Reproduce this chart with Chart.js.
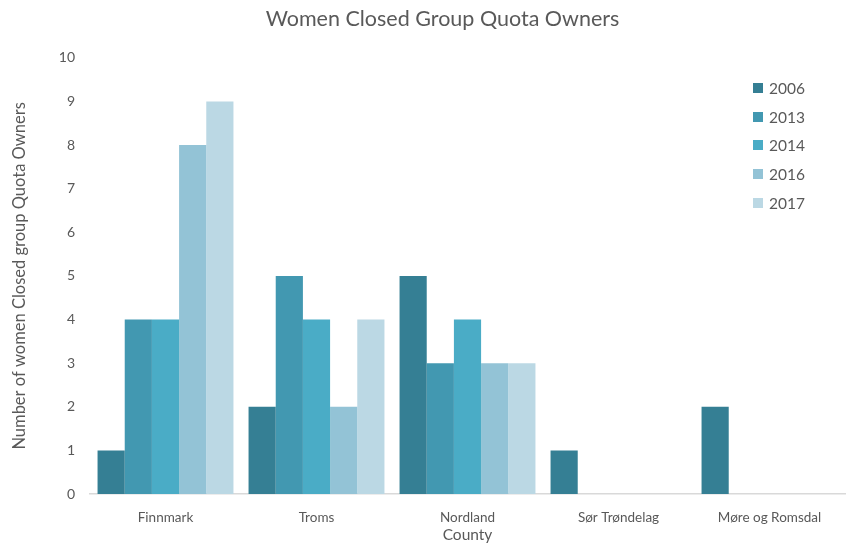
<!DOCTYPE html>
<html>
<head>
<meta charset="utf-8">
<script src="https://cdn.jsdelivr.net/npm/chart.js@4.4.1/dist/chart.umd.min.js"></script>
<style>
  html, body { margin: 0; padding: 0; background: #fff; }
  #wrap { position: relative; width: 846px; height: 545px; }
  #legend { position: absolute; left: 753px; top: 74px; font-family: Lato, "Open Sans", sans-serif; font-size: 15.5px; color: #595959; }
  #legend div { height: 28.6px; display: flex; align-items: center; }
  #legend span.box { display: inline-block; width: 10px; height: 10px; margin-right: 6px; }
</style>
</head>
<body>
<div id="wrap">
  <canvas id="c" width="846" height="545"></canvas>
  <div id="legend"></div>
</div>
<script>
  // Data
  const counties = ['Finnmark', 'Troms', 'Nordland', 'Sør Trøndelag', 'Møre og Romsdal'];
  const years = ['2006', '2013', '2014', '2016', '2017'];
  const v2006 = [1, 2, 5, 1, 2];
  const v2013 = [4, 5, 3, 0, 0];
  const v2014 = [4, 4, 4, 0, 0];
  const v2016 = [8, 2, 3, 0, 0];
  const v2017 = [9, 4, 3, 0, 0];
  const yTicks = [0, 1, 2, 3, 4, 5, 6, 7, 8, 9, 10];

  const colors = ['#357f94', '#4298b1', '#4aacc6', '#93c3d6', '#bbd8e4'];
  const series = [v2006, v2013, v2014, v2016, v2017];
  const FONT = 'Lato, "Open Sans", sans-serif';
  const GREY = '#595959';

  const datasets = series.map(function (d, i) {
    return {
      label: years[i],
      data: d,
      backgroundColor: colors[i],
      borderWidth: 0,
      categoryPercentage: 0.9,
      barPercentage: 1.0
    };
  });

  // HTML legend, built from the datasets
  const legendEl = document.getElementById('legend');
  datasets.forEach(function (ds) {
    const row = document.createElement('div');
    const box = document.createElement('span');
    box.className = 'box';
    box.style.background = ds.backgroundColor;
    row.appendChild(box);
    row.appendChild(document.createTextNode(ds.label));
    legendEl.appendChild(row);
  });

  // nudge the title a bit right, it's centred a little off the canvas middle
  const titleShift = {
    id: 'titleShift',
    afterLayout: function (chart) {
      if (chart.titleBlock) chart.titleBlock.left += 40;
    }
  };

  new Chart(document.getElementById('c'), {
    type: 'bar',
    data: { labels: counties, datasets: datasets },
    plugins: [titleShift],
    options: {
      responsive: false,
      animation: false,
      layout: { padding: { left: 0, right: 1, top: 0, bottom: 0 } },
      plugins: {
        legend: { display: false },
        tooltip: { enabled: false },
        title: {
          display: true,
          text: 'Women Closed Group Quota Owners',
          color: GREY,
          font: { family: FONT, size: 21.5, weight: 'normal' },
          padding: { top: 6, bottom: 26 }
        }
      },
      scales: {
        x: {
          afterFit: function (scale) { scale.height = 51; },
          grid: { display: false },
          border: { display: true, color: '#d9d9d9', width: 1.5 },
          ticks: { color: GREY, font: { family: FONT, size: 13.5 }, padding: 8 },
          title: {
            display: true,
            text: 'County',
            color: GREY,
            font: { family: FONT, size: 15.5 },
            padding: { top: 0, bottom: 1 }
          }
        },
        y: {
          min: 0,
          max: 10,
          afterBuildTicks: function (scale) {
            scale.ticks = yTicks.map(function (v) { return { value: v }; });
          },
          afterFit: function (scale) { scale.width = 90; },
          grid: { display: false },
          border: { display: false },
          ticks: { color: GREY, font: { family: FONT, size: 14 }, padding: 7 },
          title: {
            display: true,
            text: 'Number of women Closed group Quota Owners',
            color: GREY,
            font: { family: FONT, size: 16.5 },
            padding: { top: 10, bottom: 0 }
          }
        }
      }
    }
  });
</script>
</body>
</html>
